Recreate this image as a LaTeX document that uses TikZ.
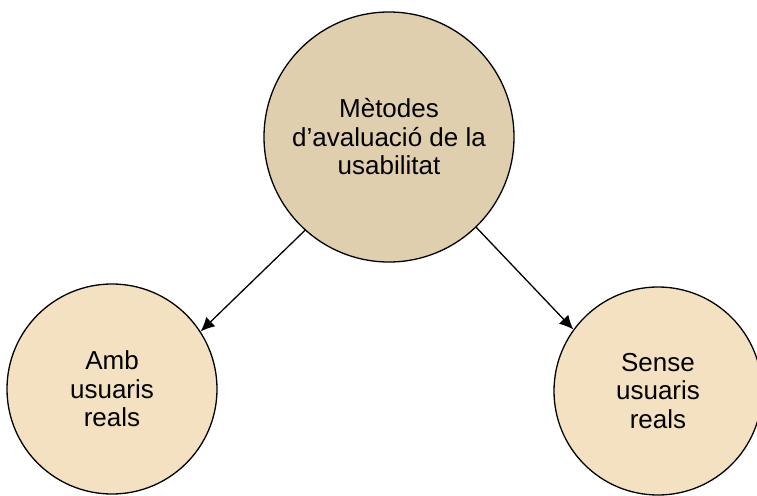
\documentclass[tikz,border=0pt]{standalone}
\usepackage{fontspec}
\setmainfont{Liberation Sans}
\usetikzlibrary{arrows.meta}
\definecolor{topfill}{HTML}{E0CFAE}
\definecolor{botfill}{HTML}{F4E1C1}
\begin{document}
\begin{tikzpicture}[x=1pt,y=-1pt,
  circ/.style={circle,draw=black,line width=1.3pt,inner sep=0pt,align=center,
    font=\fontsize{26}{28.5}\selectfont},
  arr/.style={-{Latex[length=14pt,width=13pt]},line width=1.3pt}]
\useasboundingbox (0,0) rectangle (757,495);
\clip (0,0) rectangle (757,495);
\node[circ,fill=topfill,minimum size=250pt] (top) at (389,137) {Mètodes\\d’avaluació de la\\usabilitat};
\node[circ,fill=botfill,minimum size=210pt] (left) at (112,389) {Amb\\usuaris\\reals};
\node[circ,fill=botfill,minimum size=208pt] (right) at (658,391) {Sense\\usuaris\\reals};
\draw[arr] (top.228.9) -- (left.33.8);
\draw[arr] (top.-46.9) -- (right.144.6);
\end{tikzpicture}
\end{document}
